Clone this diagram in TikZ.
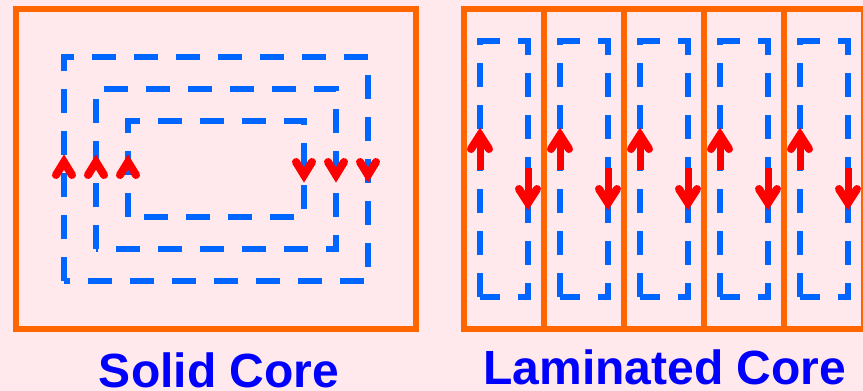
\documentclass[tikz,border=0pt]{standalone}
\usepackage{fontspec}
\setmainfont{Liberation Sans}
\definecolor{bgpink}{RGB}{255,233,236}
\definecolor{coreorange}{RGB}{255,102,0}
\definecolor{fluxblue}{RGB}{0,102,255}
\definecolor{arrred}{RGB}{255,0,0}
\definecolor{txtblue}{RGB}{0,0,255}
\begin{document}
\begin{tikzpicture}[x=1pt,y=-1pt,
  corebox/.style={draw=coreorange,line width=6.5pt},
  eddy/.style={draw=fluxblue,line width=5.5pt,dash pattern=on 24pt off 18pt},
  chev/.style={draw=arrred,line width=8pt,line cap=round,line join=miter},
  shaft/.style={draw=arrred,line width=7pt,line cap=butt},
  caption/.style={text=txtblue,font=\fontsize{48}{52}\selectfont\bfseries,anchor=base,inner sep=0pt,text depth=0pt}]
\fill[bgpink] (0,0) rectangle (863,391);
\useasboundingbox (0,0) rectangle (863,391);
% Solid core
\draw[corebox] (16,9) rectangle (416,329);
\draw[eddy] (64,281) -- (64,57) -- (368,57) -- (368,281) -- cycle;
\draw[eddy] (96,249) -- (96,89) -- (336,89) -- (336,249) -- cycle;
\draw[eddy] (128,217) -- (128,121) -- (304,121) -- (304,217) -- cycle;
\foreach \x in {64,96,128} {
  \draw[chev] (\x-8,175) -- (\x,162) -- (\x+8,175);
}
\foreach \x in {304,336,368} {
  \draw[chev] (\x-8,162) -- (\x,175) -- (\x+8,162);
}
% Laminated core
\foreach \x in {464,544,624,704,784} {
  \draw[corebox] (\x,9) rectangle (\x+80,329);
}
\foreach \x in {480,560,640,720,800} {
  \draw[eddy] (\x,297) -- (\x,41) -- (\x+48,41) -- (\x+48,297) -- cycle;
}
\foreach \x in {480,560,640,720,800} {
  \draw[shaft] (\x,170) -- (\x,137);
  \draw[chev] (\x-9,149) -- (\x,135) -- (\x+9,149);
  \draw[shaft] (\x+48,168) -- (\x+48,201);
  \draw[chev] (\x+39,189) -- (\x+48,203) -- (\x+57,189);
}
\node[caption] (solid) at (219,387) {Solid Core};
\node[caption] (lamin) at (665,384) {Laminated Core};
\end{tikzpicture}
\end{document}
